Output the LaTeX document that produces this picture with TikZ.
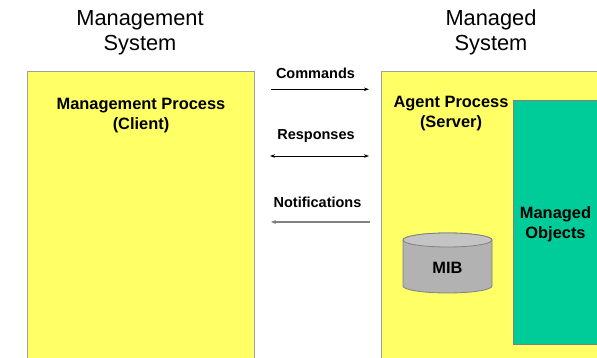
\documentclass[tikz,border=0pt]{standalone}
\usepackage{fontspec}
\setmainfont{Liberation Sans}
\usetikzlibrary{arrows.meta}
\definecolor{boxyellow}{HTML}{FFFF66}
\definecolor{boxedge}{HTML}{A0A0A0}
\definecolor{objgreen}{HTML}{00CC99}
\definecolor{mibgray}{HTML}{B2B2B2}
\definecolor{mibtop}{HTML}{C4C4C4}
\definecolor{mibedge}{HTML}{808080}
\definecolor{notegray}{HTML}{808080}
\begin{document}
\begin{tikzpicture}[x=1pt,y=1pt,
  systitle/.style={font=\fontsize{21.8}{25}\selectfont, align=center, inner sep=0pt},
  proclabel/.style={font=\fontsize{16.4}{20}\selectfont\bfseries, align=center, inner sep=0pt},
  msglabel/.style={font=\fontsize{14.5}{17}\selectfont\bfseries, inner sep=0pt},
  msgarrow/.style={line width=0.8pt, -{Stealth[length=5pt,width=3.5pt]}},
  box/.style={draw=boxedge, line width=1pt, fill=boxyellow}]
\useasboundingbox (0,0) rectangle (597,358);
\clip (0,0) rectangle (597,358);
% boxes
\path[box] (27,-5) rectangle (254,286);
\path[box] (381,-5) rectangle (605,286);
\path[draw=mibedge, line width=0.8pt, fill=objgreen] (513,14) rectangle (605,258);
% MIB cylinder
\path[draw=mibedge, line width=0.8pt, fill=mibgray]
  (403,118) -- (403,72) arc[start angle=180, end angle=360, x radius=44.5, y radius=7]
  -- (492,118) arc[start angle=0, end angle=180, x radius=44.5, y radius=7] -- cycle;
\path[draw=mibedge, line width=0.8pt, fill=mibtop] (447.5,118) ellipse[x radius=44.5, y radius=7];
\node[proclabel] (mib) at (447.5,90) {MIB};
% titles
\node[systitle] (mgmtsys) at (140,325.5) {Management\\System};
\node[systitle] (managedsys) at (491,325.5) {Managed\\System};
% process labels
\node[proclabel] (mgmtproc) at (141,242) {Management Process\\(Client)};
\node[proclabel] (agentproc) at (451,244) {Agent Process\\(Server)};
\node[proclabel] (objects) at (555.5,134) {Managed\\Objects};
% messages
\node[msglabel] (cmd) at (315.5,285) {Commands};
\node[msglabel] (resp) at (316,222) {Responses};
\node[msglabel] (notif) at (317.5,156) {Notifications};
\coordinate (cmdL) at (270.5,268.7);
\coordinate (cmdR) at (369,268.7);
\coordinate (respL) at (270,202);
\coordinate (respR) at (369,202);
\coordinate (notL) at (271,136);
\coordinate (notR) at (370,136);
\draw[msgarrow] (cmdL) -- (cmdR);
\draw[msgarrow, {Stealth[length=5pt,width=3.5pt]}-{Stealth[length=5pt,width=3.5pt]}] (respL) -- (respR);
\draw[line width=1.6pt, draw=notegray, {Stealth[length=5pt,width=4pt]}-] (notL) -- (notR);
\end{tikzpicture}
\end{document}
